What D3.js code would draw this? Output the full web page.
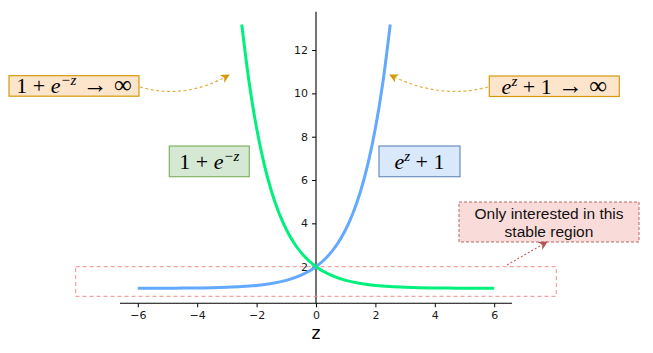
<!DOCTYPE html>
<html>
<head>
<meta charset="utf-8">
<script src="https://cdn.jsdelivr.net/npm/d3@7"></script>
<style>
  body { margin: 0; background: #fff; }
  svg text { font-family: "DejaVu Sans", sans-serif; }
  .math { font-family: "Liberation Serif", "DejaVu Serif", serif; }
</style>
</head>
<body>
<svg id="chart" width="653" height="353"></svg>
<script>
// z samples and curve values
const blueZ = [-6, -5.5, -5, -4.5, -4, -3.5, -3, -2.5, -2, -1.5, -1, -0.5, 0, 0.25, 0.5, 0.75, 1, 1.25, 1.5, 1.75, 2, 2.25, 2.5];
const blueVals = [1.002, 1.004, 1.007, 1.011, 1.018, 1.030, 1.050, 1.082, 1.135, 1.223, 1.368, 1.607, 2, 2.284, 2.649, 3.117, 3.718, 4.490, 5.482, 6.755, 8.389, 10.488, 13.18];
const greenZ = [-2.5, -2.25, -2, -1.75, -1.5, -1.25, -1, -0.75, -0.5, -0.25, 0, 0.5, 1, 1.5, 2, 2.5, 3, 3.5, 4, 4.5, 5, 5.5, 6];
const greenVals = [13.18, 10.488, 8.389, 6.755, 5.482, 4.490, 3.718, 3.117, 2.649, 2.284, 2, 1.607, 1.368, 1.223, 1.135, 1.082, 1.050, 1.030, 1.018, 1.011, 1.007, 1.004, 1.002];
const xTicks = [-6, -4, -2, 0, 2, 4, 6];
const yTicks = [2, 4, 6, 8, 10, 12];

const svg = d3.select("#chart");

const x = d3.scaleLinear().domain([-6.6, 6.6]).range([120, 512]);
const y = d3.scaleLinear().domain([0.31, 13.77]).range([303.3, 11.7]);

// arrow heads
const defs = svg.append("defs");
function marker(id, color) {
    defs.append("marker")
        .attr("id", id)
        .attr("viewBox", "0 0 10 10")
        .attr("refX", 9).attr("refY", 5)
        .attr("markerWidth", 9).attr("markerHeight", 9)
        .attr("markerUnits", "userSpaceOnUse")
        .attr("orient", "auto")
        .append("path")
        .attr("d", "M0,0 L10,5 L0,10 L3,5 Z")
        .attr("fill", color);
}
marker("goldHead", "#d49a0a");
marker("redHead", "#b85450");

// axes: bottom spine and a y spine through z = 0
const xAxis = svg.append("g")
    .attr("transform", "translate(0," + y.range()[0] + ")")
    .call(d3.axisBottom(x).tickValues(xTicks).tickSize(4).tickPadding(4)
        .tickFormat(function(d) { return d < 0 ? "\u2212" + Math.abs(d) : d; }));
const yAxis = svg.append("g")
    .attr("transform", "translate(" + x(0) + ",0)")
    .call(d3.axisLeft(y).tickValues(yTicks).tickSize(4).tickPadding(4));

[xAxis, yAxis].forEach(function(a) {
    a.select(".domain").attr("stroke", "#000").attr("stroke-width", 1.1)
        .attr("d", a === xAxis ? "M" + x.range()[0] + ",0H" + x.range()[1]
                               : "M0," + y.range()[0] + "V" + y.range()[1]);
    a.selectAll(".tick line").attr("stroke", "#000");
    a.selectAll(".tick text").attr("fill", "#1a1a1a").style("font-size", "11px")
        .style("font-family", "DejaVu Sans, sans-serif");
});

svg.append("text")
    .attr("x", x(0)).attr("y", 339)
    .attr("text-anchor", "middle")
    .style("font-size", "17px")
    .text("z");

// stable region rectangle
svg.append("rect")
    .attr("x", 75.7).attr("y", 266.7)
    .attr("width", 480.6).attr("height", 29.6)
    .attr("fill", "none")
    .attr("stroke", "#f08a8a").attr("stroke-width", 1)
    .attr("stroke-dasharray", "4,3");

// curves
const line = d3.line()
    .x(function(d) { return x(d[0]); })
    .y(function(d) { return y(d[1]); })
    .curve(d3.curveMonotoneX);

svg.append("path")
    .datum(d3.zip(blueZ, blueVals))
    .attr("d", line)
    .attr("fill", "none")
    .attr("stroke", "#63a9ff")
    .attr("stroke-width", 3);

svg.append("path")
    .datum(d3.zip(greenZ, greenVals))
    .attr("d", line)
    .attr("fill", "none")
    .attr("stroke", "#00f07c")
    .attr("stroke-width", 3);

// math label boxes, superscripts lifted with dy
function mathBox(bx, by, bw, bh, fill, stroke, parts) {
    svg.append("rect")
        .attr("x", bx).attr("y", by).attr("width", bw).attr("height", bh)
        .attr("fill", fill).attr("stroke", stroke).attr("stroke-width", 1.2);
    const t = svg.append("text")
        .attr("class", "math")
        .attr("x", bx + bw / 2).attr("y", by + bh / 2 + 7.5)
        .attr("text-anchor", "middle")
        .style("font-size", "22px");
    let lifted = false;
    parts.forEach(function(p) {
        const s = t.append("tspan").text(p.t);
        if (p.it) s.style("font-style", "italic");
        if (p.sup) {
            s.attr("dy", -8).style("font-size", "15px");
            lifted = true;
        } else if (lifted) {
            s.attr("dy", 8);
            lifted = false;
        }
        if (p.big) s.style("font-size", "25px");
    });
}

mathBox(9, 75.7, 130, 20.5, "#fde5cb", "#d49a0a",
    [{t: "1 + "}, {t: "e", it: true}, {t: "\u2212z", it: true, sup: true}, {t: " \u2192 ", big: true}, {t: "\u221e", big: true}]);
mathBox(489.3, 76, 130, 20.5, "#fde5cb", "#d49a0a",
    [{t: "e", it: true}, {t: "z", it: true, sup: true}, {t: " + 1"}, {t: " \u2192 ", big: true}, {t: "\u221e", big: true}]);
mathBox(169.3, 146, 80, 30.7, "#d5e8d4", "#82b366",
    [{t: "1 + "}, {t: "e", it: true}, {t: "\u2212z", it: true, sup: true}]);
mathBox(379, 146, 81, 30.7, "#dae8fc", "#6c8ebf",
    [{t: "e", it: true}, {t: "z", it: true, sup: true}, {t: " + 1"}]);

// dashed annotation arrows
svg.append("path")
    .attr("d", "M140,87 Q185,100 229,75")
    .attr("fill", "none").attr("stroke", "#e2b24a").attr("stroke-width", 1.2)
    .attr("stroke-dasharray", "3,2.5")
    .attr("marker-end", "url(#goldHead)");
svg.append("path")
    .attr("d", "M488,87 Q440,100 390,75")
    .attr("fill", "none").attr("stroke", "#e2b24a").attr("stroke-width", 1.2)
    .attr("stroke-dasharray", "3,2.5")
    .attr("marker-end", "url(#goldHead)");

// stable region note
svg.append("rect")
    .attr("x", 459).attr("y", 202).attr("width", 180).attr("height", 40)
    .attr("fill", "#f9dcda").attr("stroke", "#b86a66").attr("stroke-width", 1)
    .attr("stroke-dasharray", "3,2");
const note = svg.append("text")
    .attr("x", 549).attr("text-anchor", "middle")
    .style("font-family", "Liberation Sans, Arial, sans-serif")
    .style("font-size", "15.5px").attr("fill", "#111");
note.append("tspan").attr("x", 549).attr("y", 219).text("Only interested in this");
note.append("tspan").attr("x", 549).attr("y", 237).text("stable region");

svg.append("path")
    .attr("d", "M507,265 L547,242")
    .attr("fill", "none").attr("stroke", "#c06560").attr("stroke-width", 1.1)
    .attr("stroke-dasharray", "2,2")
    .attr("marker-end", "url(#redHead)");
</script>
</body>
</html>
